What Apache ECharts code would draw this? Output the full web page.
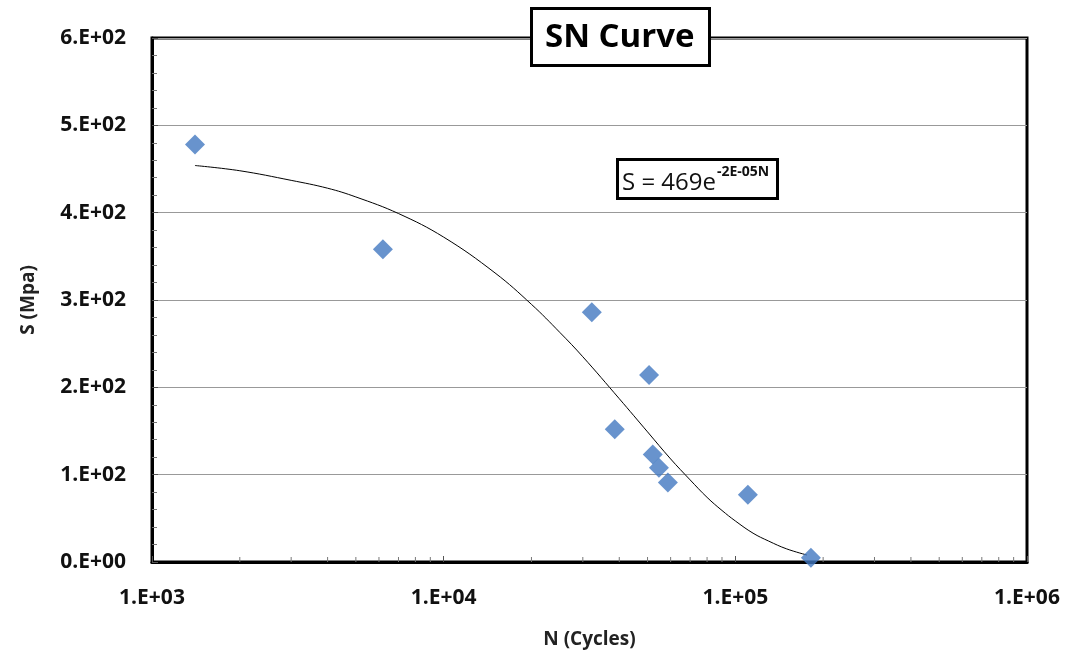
<!DOCTYPE html>
<html><head><meta charset="utf-8">
<script src="https://cdn.jsdelivr.net/npm/echarts@6/dist/echarts.min.js"></script>
<style>html,body{margin:0;padding:0;background:#fff}#c{width:1073px;height:658px}</style>
</head><body><div id="c"></div>
<script>
// Measured data points (N cycles, S MPa)
const pointsN = [1404, 6190, 32200, 50600, 38600, 52100, 54700, 58700, 110400, 181600];
const pointsS = [478, 358, 286, 214, 152, 123, 108, 91, 77, 5];
// Trend line
const curveN = [1404, 2000, 3000, 4000, 5000, 7000, 10000, 15000, 20000, 25000, 30000, 40000, 50000, 60000, 70000, 80000, 90000, 100000, 115000, 130000, 150000, 176000];
const curveS = [454, 448, 437, 428, 418, 399, 372, 331, 295, 263, 235, 187, 149, 118, 94, 74, 59, 47, 33, 24, 15, 8];
// minor log ticks on x axis
const minorTickN = [];
[1000, 10000, 100000].forEach(d => { for (let k = 2; k <= 9; k++) minorTickN.push(k * d); });

const FONT = '"Open Sans", Lato, sans-serif';
function sci(v) {
  if (v === 0) return '0.E+00';
  const e = Math.floor(Math.log10(v) + 1e-9);
  const m = Math.round(v / Math.pow(10, e));
  return m + '.E' + (e >= 0 ? '+' : '-') + String(Math.abs(e)).padStart(2, '0');
}

const chart = echarts.init(document.getElementById('c'));
chart.setOption({
  animation: false,
  backgroundColor: '#fff',
  title: [{
    text: 'SN Curve', left: 531, top: 8,
    backgroundColor: '#fff', borderColor: '#000', borderWidth: 3,
    padding: [10, 15, 8, 14],
    textStyle: { fontFamily: FONT, fontWeight: 'bold', fontSize: 33, color: '#000', lineHeight: 40 }
  }, {
    text: '{a|S = 469e}{b|-2E-05N}', left: 617, top: 159,
    backgroundColor: '#fff', borderColor: '#000', borderWidth: 3,
    padding: [6, 9, 4, 5],
    textStyle: {
      fontWeight: 'normal',
      rich: {
        a: { fontFamily: FONT, fontSize: 24, fontWeight: 'normal', color: '#111', verticalAlign: 'bottom', lineHeight: 30 },
        b: { fontFamily: FONT, fontSize: 14, fontWeight: 'bold', color: '#111', verticalAlign: 'top', lineHeight: 30, padding: [0, 0, 12, 1] }
      }
    }
  }],
  grid: { left: 152, right: 46, top: 38, bottom: 96, show: true, borderColor: '#000', borderWidth: 3, backgroundColor: 'transparent' },
  xAxis: {
    type: 'log', min: 1000, max: 1000000, logBase: 10,
    name: 'N (Cycles)', nameLocation: 'middle', nameGap: 68,
    nameTextStyle: { fontFamily: FONT, fontWeight: 'bold', fontSize: 19, color: '#222' },
    axisLine: { lineStyle: { color: '#000', width: 3 } },
    axisTick: { show: true, inside: true, length: 6, lineStyle: { color: '#555' } },
    minorTick: { show: false },
    splitLine: { show: false },
    axisLabel: { formatter: v => sci(v), margin: 26, fontFamily: FONT, fontWeight: 'bold', fontSize: 21, color: '#111' }
  },
  yAxis: {
    type: 'value', min: 0, max: 600, interval: 100,
    name: 'S (Mpa)', nameLocation: 'middle', nameGap: 114,
    nameTextStyle: { fontFamily: FONT, fontWeight: 'bold', fontSize: 19, color: '#222' },
    axisLine: { show: true, lineStyle: { color: '#000', width: 3 } },
    axisTick: { show: true, inside: true, length: 6, lineStyle: { color: '#555' } },
    minorTick: { show: true, splitNumber: 5, length: 5, lineStyle: { color: '#777' } },
    splitLine: { show: true, lineStyle: { color: '#999', width: 1.2 } },
    axisLabel: { formatter: v => sci(v), margin: 26, fontFamily: FONT, fontWeight: 'bold', fontSize: 21, color: '#111' }
  },
  series: [{
    type: 'custom', silent: true, z: 1,
    data: minorTickN.map(n => [n, 0]),
    renderItem: (params, api) => {
      const p = api.coord([api.value(0), 0]);
      return { type: 'line', shape: { x1: p[0], y1: p[1], x2: p[0], y2: p[1] - 5 }, style: { stroke: '#777', lineWidth: 1 } };
    }
  }, {
    type: 'line', data: curveN.map((n, i) => [n, curveS[i]]), smooth: 0.4, showSymbol: false,
    lineStyle: { color: '#000', width: 1 }, z: 2
  }, {
    type: 'scatter', data: pointsN.map((n, i) => [n, pointsS[i]]), symbol: 'diamond', symbolSize: [20, 20],
    itemStyle: { color: '#4278c0' }, z: 3
  }]
});
</script></body></html>
